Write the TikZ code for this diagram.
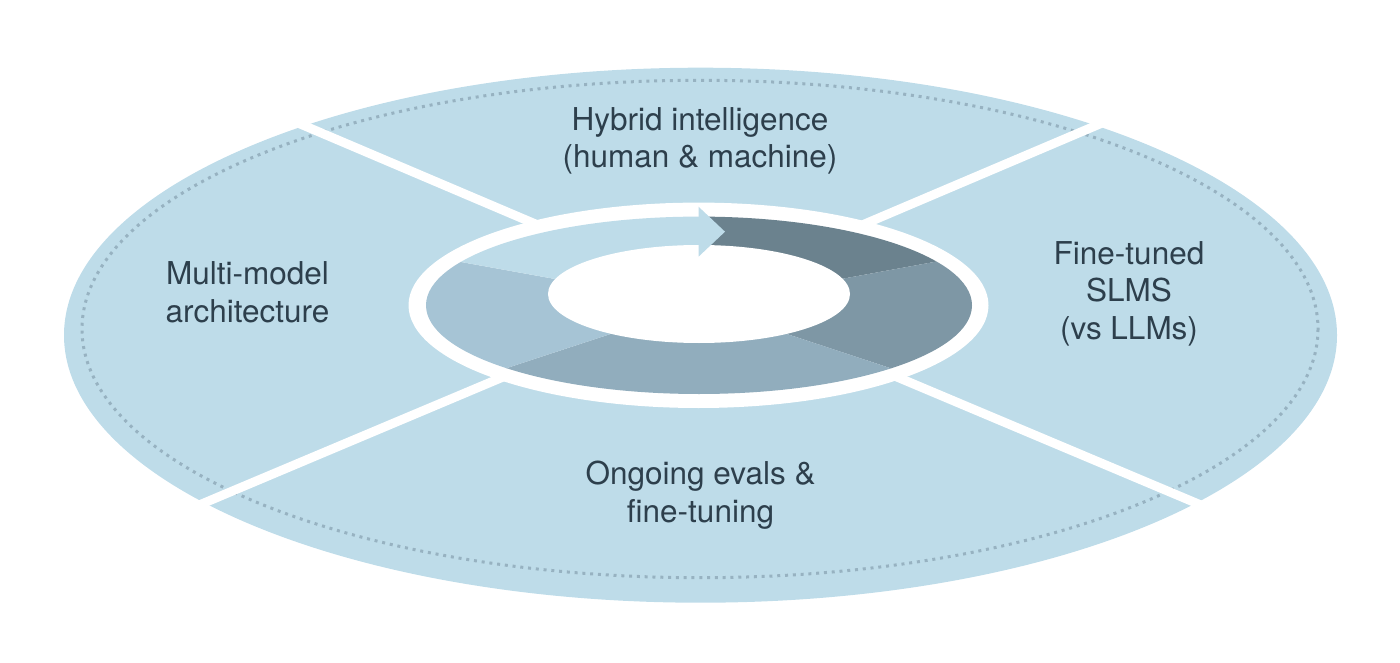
\documentclass[tikz,border=0pt]{standalone}
\usepackage{fontspec}
\setmainfont{TeX Gyre Heros}
\usetikzlibrary{calc}
\definecolor{discblue}{HTML}{BEDCE9}
\definecolor{dotgrey}{HTML}{97B2C1}
\definecolor{ringA}{HTML}{6B828E}
\definecolor{ringB}{HTML}{7E97A5}
\definecolor{ringC}{HTML}{91ADBD}
\definecolor{ringD}{HTML}{A6C4D5}
\definecolor{labelink}{HTML}{2D3F4C}

\begin{document}
\begin{tikzpicture}[x=1pt,y=-1pt,
  seglabel/.style={align=center,text=labelink,inner sep=0pt,
    font=\fontsize{31.5}{37.5}\selectfont},
  divider/.style={white,line width=9pt},
  dotring/.style={dotgrey,line width=3pt,dash pattern=on 3pt off 4.8pt}]
\useasboundingbox (0,0) rectangle (1400,663);
% outer disc
\fill[discblue] (700.5,335.2) ellipse [x radius=636.5,y radius=267.5];
\draw[dotring] (700,329) ellipse [x radius=618,y radius=248.7];
% dividers
\coordinate (hub) at (700,294);
\coordinate (ul) at (305,126);
\coordinate (ur) at (1095,126);
\coordinate (ll) at (204,503);
\coordinate (lr) at (1196,503);
\foreach \e in {ul,ur,ll,lr}
  \draw[divider] (hub) -- ($(hub)!1.06!(\e)$);
% cycle ring
\fill[white] (698.5,305.3) ellipse [x radius=290,y radius=102.7];
\begin{scope}
  \clip (699,305.3) ellipse [x radius=273,y radius=88.7];
  \coordinate (mid) at (699,305);
  \coordinate (s1) at (934,262);
  \coordinate (s2) at (890,368);
  \coordinate (s3) at (507,368);
  \coordinate (s4) at (461,262);
  \coordinate (s5) at (699,217);
  \foreach \a/\b/\c in {s5/s1/ringA,s1/s2/ringB,s2/s3/ringC,s3/s4/ringD,s4/s5/discblue}
    \fill[\c] (mid) -- ($(mid)!10!(\a)$) -- ($(mid)!10!(\b)$) -- cycle;
\end{scope}
\fill[white] (699,294) ellipse [x radius=151,y radius=49];
\fill[discblue] (698.5,206.7) -- (725,231.7) -- (698.5,256.7) -- cycle;
% labels
\node[seglabel] (hybrid) at (700,141) {Hybrid intelligence\\(human \& machine)};
\node[seglabel] (multi) at (247.5,292.4) {Multi-model\\architecture};
\node[seglabel] (slms) at (1129,293.8) {Fine-tuned\\SLMS\\(vs LLMs)};
\node[seglabel] (evals) at (700.5,495) {Ongoing evals \&\\fine-tuning};
\end{tikzpicture}
\end{document}
